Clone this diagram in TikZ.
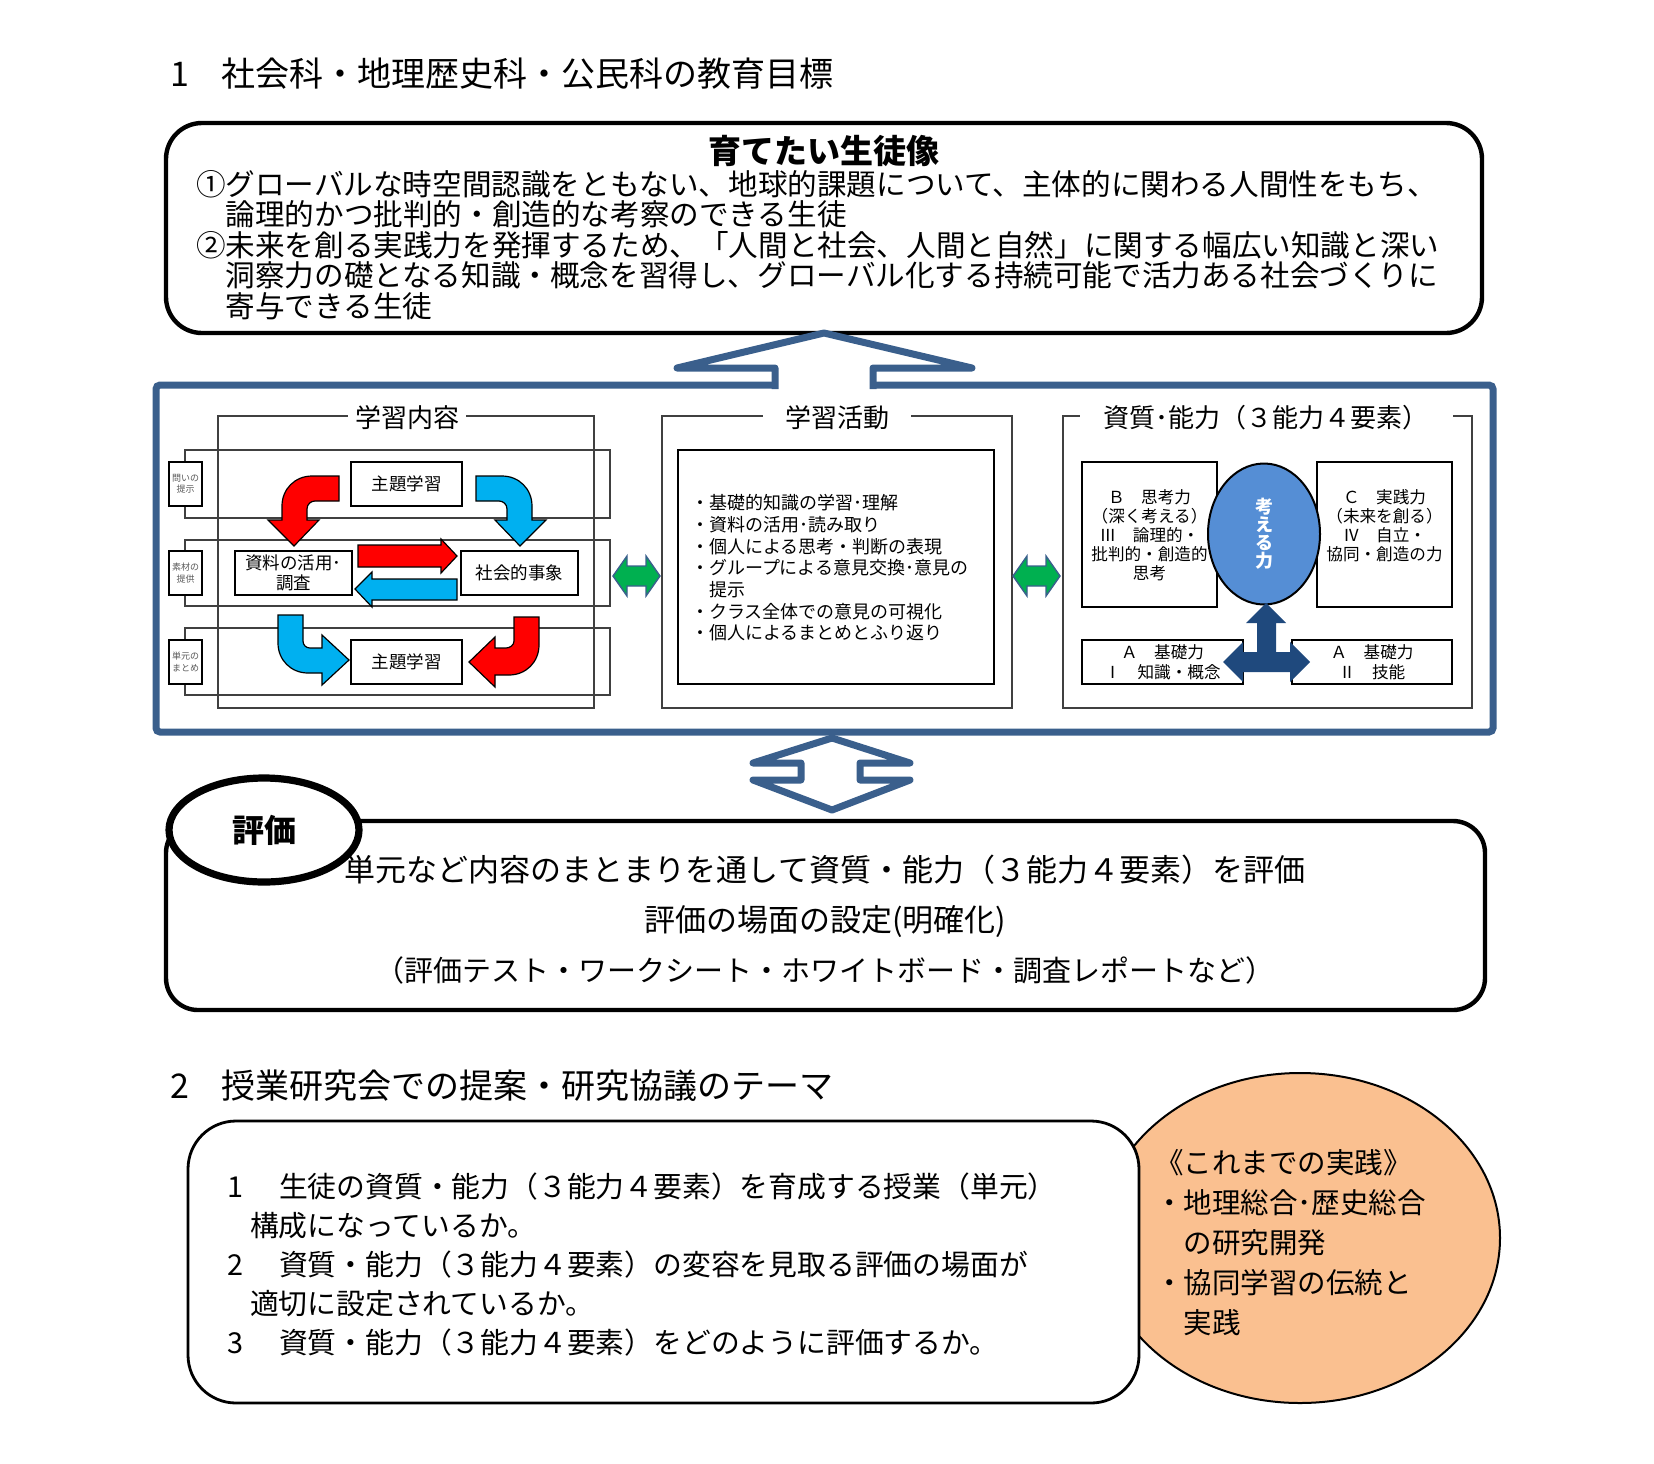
\documentclass[tikz,border=0pt]{standalone}
\usepackage{fontspec}
\setmainfont{Noto Sans CJK JP}
\usepackage{xcolor}
\usepackage{tikz}
\usetikzlibrary{shapes.geometric}

\definecolor{frameblue}{RGB}{58,95,140}
\definecolor{arrowred}{RGB}{255,0,0}
\definecolor{arrowblue}{RGB}{0,176,240}
\definecolor{arrowgreen}{RGB}{0,176,80}
\definecolor{ellblue}{RGB}{85,142,213}
\definecolor{darkblue}{RGB}{31,73,125}
\definecolor{peach}{RGB}{250,192,144}

\tikzset{
  textbox/.style={draw, line width=1pt, fill=white, inner sep=0pt, align=center,
    font=\fontsize{8.75}{10}\selectfont},
  tinybox/.style={draw, line width=1pt, fill=white, inner sep=0pt, align=center,
    text=black!65, minimum width=16.5pt, minimum height=22pt,
    font=\fontsize{4.5}{5.6}\selectfont},
  panel/.style={draw=black!75, line width=1.2pt},
  strip/.style={draw=black!75, line width=0.7pt},
  paneltitle/.style={fill=white, inner ysep=1pt, font=\fontsize{13}{15}\selectfont},
  redarrow/.style={fill=arrowred, draw=black, line width=0.6pt},
  bluearrow/.style={fill=arrowblue, draw=black, line width=0.6pt},
  greenarrow/.style={fill=arrowgreen, draw=frameblue, line width=0.7pt},
  hollowarrow/.style={draw=frameblue, fill=white, line width=3.5pt, line join=round},
  smalltext/.style={align=center, font=\fontsize{8.3}{9.5}\selectfont}
}

\begin{document}
\begin{tikzpicture}[x=0.5pt, y=-0.5pt]
	\useasboundingbox (0,0) rectangle (1654,1463);

	\node[anchor=west, font=\fontsize{17}{20}\selectfont] (title1) at (163,74) {1\hspace{0.95em}社会科・地理歴史科・公民科の教育目標};

	\node[draw, line width=2.2pt, rounded corners=18pt, minimum width=658pt, minimum height=105pt] (goalbox) at (824,228) {};
	\node[font=\bfseries\fontsize{16.5}{19}\selectfont] (goaltitle) at (824,151) {育てたい生徒像};
	\node[anchor=west, align=left, font=\fontsize{14.8}{15.3}\selectfont] (goaltext) at (189,245) {①グローバルな時空間認識をともない、地球的課題について、主体的に関わる人間性をもち、\\　論理的かつ批判的・創造的な考察のできる生徒\\②未来を創る実践力を発揮するため、「人間と社会、人間と自然」に関する幅広い知識と深い\\　洞察力の礎となる知識・概念を習得し、グローバル化する持続可能で活力ある社会づくりに\\　寄与できる生徒};

	\draw[frameblue, line width=3.5pt, rounded corners=2pt] (156,385) rectangle (1493,732);
	\filldraw[hollowarrow] (775,389) -- (775,368) -- (677,368) -- (824,333) -- (972,368) -- (873,368) -- (873,389);

	% learning content
	\draw[panel] (218,416) rectangle (594,708);
	\draw[strip] (185,450) rectangle (610,518);
	\draw[strip] (185,540) rectangle (610,606);
	\draw[strip] (185,628) rectangle (610,695);
	\node[paneltitle] (contenttitle) at (407,418) {学習内容};
	\node[tinybox] (ask) at (185.5,484) {問いの\\提示};
	\node[tinybox] (material) at (185.5,573) {素材の\\提供};
	\node[tinybox] (summary) at (185.5,662) {単元の\\まとめ};
	\node[textbox, minimum width=55.5pt, minimum height=22pt] (theme1) at (406.5,484) {主題学習};
	\node[textbox, minimum width=58.5pt, minimum height=22pt] (sources) at (293.5,573) {資料の活用･\\調査};
	\node[textbox, minimum width=58.5pt, minimum height=22pt] (events) at (519.5,573) {社会的事象};
	\node[textbox, minimum width=55.5pt, minimum height=22pt] (theme2) at (406.5,662) {主題学習};

	\draw[redarrow] (339,476) -- (312,476) .. controls (295,476) and (282,489) .. (282,506) -- (282,520) -- (268,520) -- (294,546) -- (319,520) -- (307,520) -- (307,509) .. controls (307,504) and (311,501) .. (315,501) -- (339,501) -- cycle;
	\draw[bluearrow] (476,476) -- (502,476) .. controls (519,476) and (532,489) .. (532,506) -- (532,520) -- (546,520) -- (520,546) -- (495,520) -- (507,520) -- (507,509) .. controls (507,504) and (503,501) .. (499,501) -- (476,501) -- cycle;
	\draw[redarrow] (358,545) -- (441,545) -- (441,539) -- (457,556) -- (441,573) -- (441,567) -- (358,567) -- cycle;
	\draw[bluearrow] (457,579) -- (372,579) -- (372,572) -- (355,589) -- (372,607) -- (372,600) -- (457,600) -- cycle;
	\draw[bluearrow] (278,615) -- (303,615) -- (303,641) .. controls (303,645) and (306,648) .. (310,648) -- (322,648) -- (322,635) -- (349,660) -- (322,685) -- (322,673) -- (308,673) .. controls (291,673) and (278,660) .. (278,643) -- cycle;
	\draw[redarrow] (514,617) -- (539,617) -- (539,645) .. controls (539,662) and (526,675) .. (509,675) -- (495,675) -- (495,687) -- (469,662) -- (495,637) -- (495,648) -- (506,648) .. controls (510,648) and (514,645) .. (514,641) -- cycle;

	\draw[greenarrow] (613,576) -- (627,556) -- (627,566) -- (646,566) -- (646,556) -- (660,576) -- (646,596) -- (646,586) -- (627,586) -- (627,596) -- cycle;

	% learning activities
	\draw[panel] (662,416) rectangle (1012,708);
	\draw[line width=0.8pt] (678,450) rectangle (994,684);
	\node[paneltitle, inner xsep=11pt] (activitytitle) at (837,418) {学習活動};
	\node[anchor=west, align=left, font=\fontsize{9}{10.85}\selectfont] (activities) at (684,568) {・基礎的知識の学習･理解\\・資料の活用･読み取り\\・個人による思考・判断の表現\\・グループによる意見交換･意見の\\　提示\\・クラス全体での意見の可視化\\・個人によるまとめとふり返り};

	\draw[greenarrow] (1013,576) -- (1027,556) -- (1027,566) -- (1046,566) -- (1046,556) -- (1060,576) -- (1046,596) -- (1046,586) -- (1027,586) -- (1027,596) -- cycle;

	% abilities
	\draw[panel] (1063,416) rectangle (1472,708);
	\node[paneltitle, inner xsep=12pt] (abilitytitle) at (1266,418) {資質･能力（３能力４要素）};
	\node[draw, line width=1pt, minimum width=67.5pt, minimum height=72.5pt] (bbox) at (1149.5,534.5) {};
	\node[draw, line width=1pt, minimum width=67.5pt, minimum height=72.5pt] (cbox) at (1384.5,534.5) {};
	\node[ellipse, draw, line width=1pt, fill=ellblue, minimum width=56pt, minimum height=70.5pt, inner sep=0pt, text=white, align=center, font=\bfseries\fontsize{9}{9}\selectfont] (think) at (1264,534) {考\\え\\る\\力};
	\node[smalltext] (btext) at (1149.5,535) {Ｂ　思考力\\（深く考える）\\Ⅲ　論理的・\\批判的・創造的\\思考};
	\node[smalltext] (ctext) at (1384.5,526) {Ｃ　実践力\\（未来を創る）\\Ⅳ　自立・\\協同・創造の力};
	\node[draw, line width=1pt, minimum width=80.5pt, minimum height=22pt, inner sep=0pt, smalltext, font=\fontsize{8.3}{10}\selectfont] (abox1) at (1162.5,662) {Ａ　基礎力\\Ⅰ　知識・概念};
	\node[draw, line width=1pt, minimum width=80pt, minimum height=22pt, inner sep=0pt, smalltext, font=\fontsize{8.3}{10}\selectfont] (abox2) at (1372,662) {Ａ　基礎力\\Ⅱ　技能};
	\fill[darkblue] (1266,603) -- (1286,623) -- (1276,623) -- (1276,652) -- (1290,652) -- (1290,642) -- (1310,662) -- (1290,682) -- (1290,672) -- (1243,672) -- (1243,682) -- (1223,662) -- (1243,642) -- (1243,652) -- (1257,652) -- (1257,623) -- (1246,623) -- cycle;

	\draw[hollowarrow] (832,738) -- (910,763) -- (860,763) -- (860,780) -- (910,780) -- (832,810) -- (753,780) -- (801,780) -- (801,763) -- (753,763) -- cycle;

	% evaluation
	\node[draw, line width=2.2pt, rounded corners=16pt, minimum width=659.5pt, minimum height=94.5pt] (evalbox) at (825.5,915.5) {};
	\node[ellipse, draw, line width=3.6pt, fill=white, minimum width=95pt, minimum height=52pt, inner sep=0pt, font=\bfseries\fontsize{16}{16}\selectfont] (evaltag) at (264,830) {評価};
	\node[font=\fontsize{15.5}{18}\selectfont] (evalline1) at (825,870) {単元など内容のまとまりを通して資質・能力（３能力４要素）を評価};
	\node[font=\fontsize{15.5}{18}\selectfont] (evalline2) at (825,921) {評価の場面の設定(明確化)};
	\node[font=\fontsize{14.5}{17}\selectfont] (evalline3) at (825,970) {（評価テスト・ワークシート・ホワイトボード・調査レポートなど）};

	\node[anchor=west, font=\fontsize{17}{20}\selectfont] (title2) at (163,1086) {2\hspace{0.95em}授業研究会での提案・研究協議のテーマ};

	\node[ellipse, draw, line width=1pt, fill=peach, minimum width=200pt, minimum height=165pt] (pastwork) at (1300,1238) {};
	\node[draw, line width=1.4pt, fill=white, rounded corners=24pt, minimum width=475.5pt, minimum height=141pt] (themebox) at (663.5,1262) {};
	\node[anchor=west, align=left, font=\fontsize{14.4}{19.5}\selectfont] (themetext) at (220,1265) {1\hspace{1.25em}生徒の資質・能力（３能力４要素）を育成する授業（単元）\\\hspace{0.8em}構成になっているか。\\2\hspace{1.25em}資質・能力（３能力４要素）の変容を見取る評価の場面が\\\hspace{0.8em}適切に設定されているか。\\3\hspace{1.25em}資質・能力（３能力４要素）をどのように評価するか。};
	\node[anchor=west, align=left, font=\fontsize{14.25}{20}\selectfont] (pasttext) at (1148,1243) {《これまでの実践》\\・地理総合･歴史総合\\　の研究開発\\・協同学習の伝統と\\　実践};
\end{tikzpicture}
\end{document}
